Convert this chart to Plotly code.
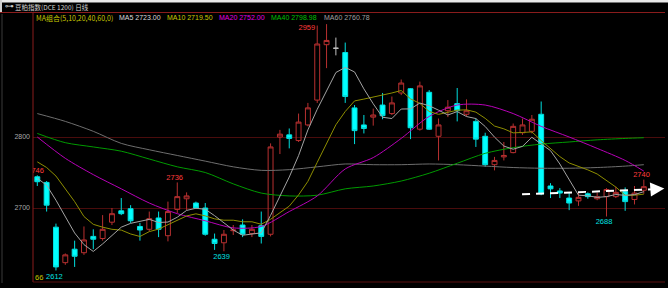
import plotly.graph_objects as go

# ---------------- data ----------------
opens  = [2744,2736,2673,2623,2642,2637,2660,2657,2680,2696,2699,2674,2670,2686,2661,2698,2713,2707,2700,2656,
          2651,2668,2676,2664,2675,2663,2800,2803,2795,2817,2852,2930,2925,2919,2841,2817,2828,2845,2833,2862,
          2868,2811,2863,2801,2837,2847,2832,2822,2801,2761,2772,2778,2806,2808,2832,2731,2724,2714,2710,2720,
          2713,2716,2716,2723,2712,2725]
highs  = [2746,2738,2678,2636,2654,2674,2670,2690,2700,2714,2704,2679,2695,2695,2709,2736,2722,2709,2707,2664,
          2669,2676,2684,2676,2695,2791,2810,2812,2833,2848,2957,2959,2940,2933,2845,2831,2840,2862,2857,2881,
          2869,2878,2866,2826,2852,2869,2853,2826,2806,2772,2793,2819,2826,2831,2850,2735,2728,2721,2721,2722,
          2722,2728,2730,2729,2731,2740]
lows   = [2731,2695,2612,2620,2617,2634,2642,2654,2676,2690,2679,2654,2667,2659,2653,2693,2697,2699,2661,2641,
          2639,2662,2659,2659,2650,2660,2776,2784,2793,2815,2848,2897,2915,2848,2790,2805,2816,2825,2831,2859,
          2797,2809,2810,2767,2828,2822,2829,2786,2758,2753,2767,2777,2803,2805,2718,2714,2714,2697,2703,2713,
          2711,2688,2714,2696,2705,2720]
closes = [2737,2704,2617,2634,2632,2655,2656,2670,2692,2692,2682,2669,2685,2670,2695,2716,2717,2700,2663,2650,
          2663,2669,2663,2670,2660,2786,2804,2798,2821,2841,2931,2936,2925,2857,2809,2812,2831,2830,2848,2876,
          2813,2872,2811,2817,2842,2837,2837,2797,2761,2767,2774,2815,2817,2825,2720,2727,2721,2707,2715,2716,
          2716,2726,2722,2709,2721,2730]

ma5  = [2742,2732,2711,2688,2664.8,2648.4,2638.8,2649.4,2661.0,2673.0,2678.4,2681.0,2684.0,2679.6,2680.2,
        2687.0,2696.6,2699.6,2698.2,2689.2,2678.6,2669.0,2661.6,2663.0,2665.0,2689.6,2716.6,2743.6,2773.8,
        2810.0,2839.0,2865.4,2890.8,2898.0,2891.6,2867.8,2846.8,2827.8,2826.0,2839.4,2839.6,2847.8,2844.0,
        2837.8,2831.0,2835.8,2828.8,2826.0,2814.8,2799.8,2787.2,2782.8,2786.8,2799.6,2790.2,2780.8,2762.0,
        2740.0,2718.0,2717.2,2715.0,2716.0,2719.0,2717.8,2718.8,2723.0]
ma10 = [2765,2757,2745,2727,2709,2688,2677,2673,2670,2668.9,2663.4,2659.9,2666.7,2670.3,2676.6,2682.7,
        2688.8,2691.8,2688.9,2684.7,2682.8,2682.8,2680.6,2680.6,2677.1,2684.1,2692.8,2702.6,2718.4,2737.5,
        2764.3,2791.0,2817.2,2835.9,2850.8,2853.4,2856.1,2859.3,2862.0,2865.5,2853.7,2847.3,2835.9,2831.9,
        2835.2,2837.7,2838.3,2835.0,2826.3,2815.4,2811.5,2805.8,2806.4,2807.2,2795.0,2784.0,2772.4,2763.4,
        2758.8,2753.7,2747.9,2739.0,2729.5,2717.9,2718.0,2719.5]
ma_long_idx = [0,3,6,9,12,15,18,21,24,27,30,33,36,39,42,45,48,51,54,57,60,63,65]
ma20 = [2800,2770,2747,2727,2707,2692,2682,2672,2674,2695,2717,2755,2771,2798,2829,2845,2845,2833,2815,2800,2784,2767,2752]
ma40 = [2805,2792,2786,2780,2769,2758,2750,2734,2721,2717,2718,2727,2731,2738,2749,2763,2777,2785,2790,2793,2796,2798,2799]
ma60 = [2833,2822,2808,2791,2782,2774,2766,2758,2753,2754,2758,2762,2761,2761,2762,2761,2759,2757,2756,2756,2757,2759,2761]

title_text = "豆粕指数(DCE 1200) 日线"
legend_items = [("MA组合(5,10,20,40,60,0)", "#c8c800"), ("MA5 2723.00", "#d8d8d8"), ("MA10 2719.50", "#c8c800"),
                ("MA20 2752.00", "#e000e0"), ("MA40 2798.98", "#00c000"), ("MA60 2760.78", "#a0a0a0")]
y_ticks = [2700, 2800]
doji_idx = [32]
corner_text = "66"

# ---------------- layout constants ----------------
W, H = 668, 288
ML, MR, MT, MB = 33, 3, 13, 6
PW, PH = W - ML - MR, H - MT - MB
XR = [-0.461, 67.27]
YR = [2595.77, 2974.65]
FONT = "Liberation Sans, Arial, sans-serif"
CJK = "Noto Sans CJK SC, sans-serif"

def px_x(px):
    return (px - ML) / PW

def px_y(py):
    return (H - MB - py) / PH

idx = list(range(len(closes)))
main = [i for i in idx if i not in doji_idx]

fig = go.Figure()

# moving averages (drawn beneath candles)
fig.add_trace(go.Scatter(x=ma_long_idx, y=ma60, mode="lines", line=dict(color="#6e6e6e", width=1, shape="spline", smoothing=0.8), hoverinfo="skip"))
fig.add_trace(go.Scatter(x=ma_long_idx, y=ma40, mode="lines", line=dict(color="#009a00", width=1, shape="spline", smoothing=0.8), hoverinfo="skip"))
fig.add_trace(go.Scatter(x=ma_long_idx, y=ma20, mode="lines", line=dict(color="#b800b8", width=1, shape="spline", smoothing=0.8), hoverinfo="skip"))
fig.add_trace(go.Scatter(x=idx, y=ma10, mode="lines", line=dict(color="#8e8e00", width=1), hoverinfo="skip"))
fig.add_trace(go.Scatter(x=idx, y=ma5, mode="lines", line=dict(color="#a4a4a4", width=1), hoverinfo="skip"))

fig.add_trace(go.Candlestick(
    x=main,
    open=[opens[i] for i in main], high=[highs[i] for i in main],
    low=[lows[i] for i in main], close=[closes[i] for i in main],
    increasing=dict(line=dict(color="#b83030", width=1), fillcolor="rgba(0,0,0,0)"),
    decreasing=dict(line=dict(color="#00dede", width=1), fillcolor="#00ffff"),
    whiskerwidth=0, hoverinfo="skip"))
fig.add_trace(go.Candlestick(
    x=doji_idx,
    open=[opens[i] for i in doji_idx], high=[highs[i] for i in doji_idx],
    low=[lows[i] for i in doji_idx], close=[closes[i] for i in doji_idx],
    increasing=dict(line=dict(color="#c0c0c0", width=1), fillcolor="#c0c0c0"),
    decreasing=dict(line=dict(color="#c0c0c0", width=1), fillcolor="#c0c0c0"),
    whiskerwidth=0, hoverinfo="skip"))

# high / low value labels anchored to the candles
labels = [
    (31, highs[31], "#ff3c3c", -19.7, -3.9),
    (15, highs[15], "#ff3c3c", -2.6, 4.1),
    (0, highs[0], "#ff3c3c", -1.7, 4.6),
    (20, lows[20], "#00e0e0", -2.3, -6.2),
    (2, lows[2], "#00e0e0", -1.5, -6.2),
    (61, lows[61], "#00e0e0", -2.5, -5.8),
    (65, highs[65], "#ff3c3c", -2.3, 4.1),
]
span = (XR[1] - XR[0]) / PW
yspan = (YR[1] - YR[0]) / PH
for i, v, col, dx, dy in labels:
    fig.add_trace(go.Scatter(x=[i + dx * span], y=[v + dy * yspan], mode="text", text=[str(v)],
                             textposition="middle center", cliponaxis=True,
                             textfont=dict(color=col, size=7.5, family=FONT), hoverinfo="skip"))

shapes = []
# top white strip and title band
shapes.append(dict(type="rect", xref="paper", yref="paper", x0=px_x(0), x1=px_x(W), y0=px_y(0), y1=px_y(2.5),
                   fillcolor="#e8e8e8", line=dict(width=0), layer="above"))
shapes.append(dict(type="rect", xref="paper", yref="paper", x0=px_x(0), x1=px_x(2), y0=px_y(0), y1=px_y(13),
                   fillcolor="#d0d0d0", line=dict(width=0), layer="above"))
shapes.append(dict(type="line", xref="paper", yref="paper", x0=px_x(2), x1=px_x(2), y0=px_y(14), y1=px_y(283),
                   line=dict(color="#3a3a3a", width=1)))
# frame lines
shapes.append(dict(type="line", xref="paper", yref="paper", x0=px_x(0), x1=1, y0=px_y(12.5), y1=px_y(12.5),
                   line=dict(color="#8a1c1c", width=1)))
shapes.append(dict(type="line", xref="paper", yref="paper", x0=0, x1=0, y0=0, y1=1,
                   line=dict(color="#8a1c1c", width=1)))
shapes.append(dict(type="line", xref="paper", yref="paper", x0=0, x1=1, y0=0, y1=0,
                   line=dict(color="#5a1010", width=1)))
# dashed trend line
shapes.append(dict(type="line", xref="x", yref="y", x0=51.95, y0=2719.3, x1=66.0, y1=2726.3,
                   line=dict(color="white", width=2, dash="8px,6px"), layer="above"))

annotations = []
annotations.append(dict(xref="x", yref="y", x=67.2, y=2727.6, ax=65.9, ay=2726.3, axref="x", ayref="y",
                        showarrow=True, arrowhead=2, arrowsize=1.4, arrowwidth=2, arrowcolor="white", text=""))
annotations.append(dict(xref="paper", yref="paper", x=px_x(2.5), y=px_y(6.5), xanchor="left", yanchor="middle",
                        text="⊶", showarrow=False, font=dict(color="#c8c8c8", size=9, family="DejaVu Sans")))
annotations.append(dict(xref="paper", yref="paper", x=px_x(12.5), y=px_y(6.8), xanchor="left", yanchor="middle",
                        text=title_text, showarrow=False, font=dict(color="#d0d0d0", size=6.5, family=CJK)))
leg_x = [34.3, 117.3, 165, 217.3, 269.3, 321.7]
for (t, c), lx in zip(legend_items, leg_x):
    annotations.append(dict(xref="paper", yref="paper", x=px_x(lx), y=px_y(17.5), xanchor="left", yanchor="middle",
                            text=t, showarrow=False,
                            font=dict(color=c, size=7, family=FONT if "组" not in t else CJK)))
annotations.append(dict(xref="paper", yref="paper", x=px_x(32.8), y=px_y(277), xanchor="left", yanchor="middle",
                        text=corner_text, showarrow=False, font=dict(color="#c8c800", size=7.5, family=FONT)))

fig.update_layout(
    width=W, height=H, margin=dict(l=ML, r=MR, t=MT, b=MB, pad=0),
    paper_bgcolor="black", plot_bgcolor="black", showlegend=False, boxgap=0.25,
    shapes=shapes, annotations=annotations,
    xaxis=dict(range=XR, visible=False, showgrid=False, zeroline=False, rangeslider=dict(visible=False), fixedrange=True),
    yaxis=dict(range=YR, tickvals=y_ticks, ticktext=[str(v) for v in y_ticks], showgrid=True, gridcolor="#4a0c0c",
               gridwidth=1, zeroline=False, showline=False, ticks="", ticklabelstandoff=2,
               tickfont=dict(color="#a8a8a8", size=7, family=FONT)),
)
fig.write_html("out.html")
